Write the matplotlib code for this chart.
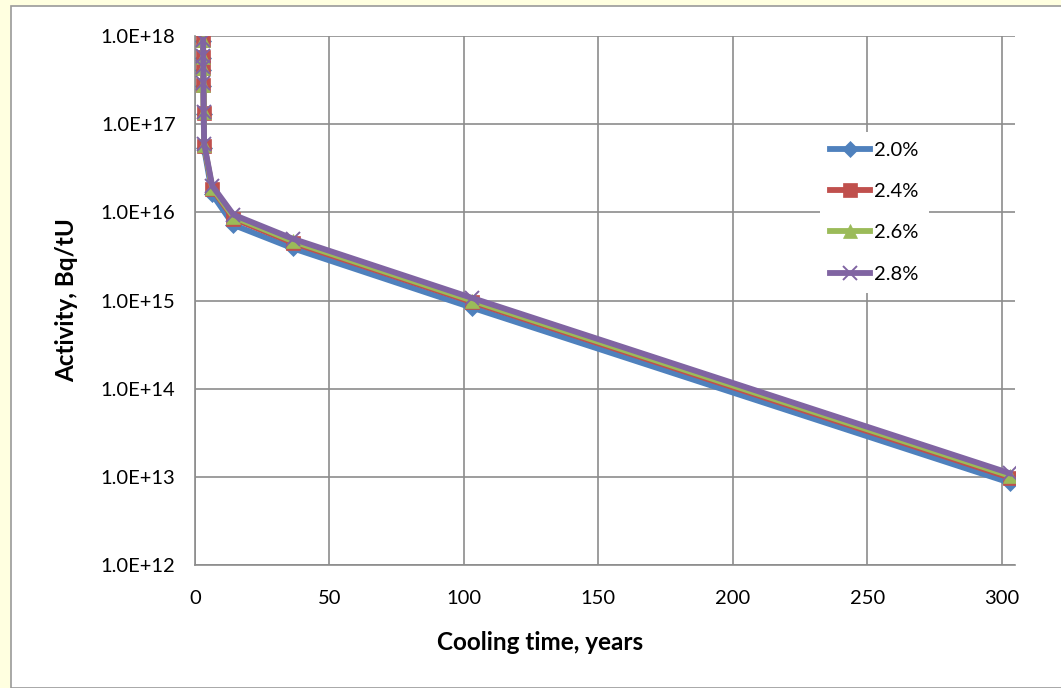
import numpy as np
import matplotlib.pyplot as plt
from matplotlib.patches import Rectangle
from matplotlib.ticker import FuncFormatter, FixedLocator

plt.rcParams['font.family'] = ['Lato', 'DejaVu Sans']

# cooling time, years
t = [3.0, 3.05, 3.1, 3.15, 3.25, 3.4, 6.4, 14.3, 36.5, 103, 303]

# activity, Bq/tU, per enrichment
a_20 = [8.8e17, 5.6e17, 4.1e17, 2.7e17, 1.30e17, 5.3e16, 1.6e16, 7.2e15, 3.9e15, 8.3e14, 8.6e12]
a_24 = [9.0e17, 5.8e17, 4.3e17, 2.8e17, 1.35e17, 5.7e16, 1.85e16, 8.5e15, 4.5e15, 9.6e14, 9.8e12]
a_26 = [9.0e17, 5.8e17, 4.3e17, 2.8e17, 1.36e17, 5.8e16, 1.9e16, 8.9e15, 4.7e15, 1.0e15, 1.03e13]
a_28 = [9.1e17, 5.9e17, 4.4e17, 2.9e17, 1.38e17, 6.0e16, 2.0e16, 9.4e15, 5.0e15, 1.07e15, 1.1e13]

labels = ['2.0%', '2.4%', '2.6%', '2.8%']
series = [a_20, a_24, a_26, a_28]
colors = ['#4F81BD', '#C0504D', '#9BBB59', '#8064A2']
markers = ['D', 's', '^', 'x']
msizes = [8, 10, 10, 10]

fig = plt.figure(figsize=(10.61, 6.88), dpi=100)
fig.patch.set_facecolor('#FFFFE0')
fig.patches.append(Rectangle((11/1061, 0), 1.0, 1 - 6/688, transform=fig.transFigure,
                             facecolor='white', edgecolor='#9a9a9a', linewidth=1.2, zorder=-5))

ax = fig.add_axes([195/1061, 1 - 565/688, (1015 - 195)/1061, (565 - 36)/688])
ax.set_zorder(2)
ax.set_facecolor('white')

for i in range(len(series)):
    ax.plot(t, series[i], color=colors[i], linewidth=4.2, marker=markers[i],
            markersize=msizes[i], markeredgewidth=1.4 if markers[i] == 'x' else 0.5,
            markeredgecolor=colors[i], label=labels[i], zorder=3 + i, clip_on=True)

ax.set_yscale('log')
ax.set_ylim(1e12, 1e18)
ax.set_xlim(0, 305)
ax.xaxis.set_major_locator(FixedLocator([0, 50, 100, 150, 200, 250, 300]))
ax.yaxis.set_major_locator(FixedLocator([10.0**k for k in range(12, 19)]))
ax.yaxis.set_minor_locator(FixedLocator([]))
ax.yaxis.set_major_formatter(FuncFormatter(lambda v, p: '1.0E+%d' % round(np.log10(v))))

ax.grid(True, color='#8c8c8c', linewidth=1.2)
ax.set_axisbelow(True)
for s in ['top', 'right']:
    ax.spines[s].set_visible(False)
for s in ['left', 'bottom']:
    ax.spines[s].set_color('#8c8c8c')
    ax.spines[s].set_linewidth(1.2)
ax.tick_params(length=0, labelsize=14.5, pad=14)
ax.tick_params(axis='x', pad=18)

ax.set_xlabel('Cooling time, years', fontsize=17.5, fontweight='bold')
ax.xaxis.set_label_coords((540 - 195) / 820, -(631 - 565) / 529)
ax.set_ylabel('Activity, Bq/tU', fontsize=17.5, fontweight='bold', labelpad=16)

leg = ax.legend(loc='upper left', bbox_to_anchor=(0.75, 0.838), frameon=True, fontsize=14.5,
                handlelength=2.0, labelspacing=1.2, borderpad=0.5, handletextpad=0.2)
leg.get_frame().set_facecolor('white')
leg.get_frame().set_edgecolor('none')
leg.get_frame().set_alpha(1)

fig.savefig('out.png', dpi=100, facecolor=fig.get_facecolor())
